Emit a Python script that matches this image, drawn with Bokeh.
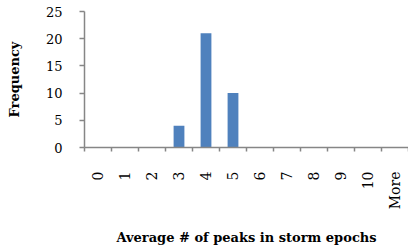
import math
from bokeh.plotting import figure
from bokeh.models import Range1d, FixedTicker, ColumnDataSource
from bokeh.embed import file_html
from bokeh.resources import INLINE

categories = ["0", "1", "2", "3", "4", "5", "6", "7", "8", "9", "10", "More"]
frequency = [0, 0, 0, 4, 21, 10, 0, 0, 0, 0, 0, 0]
y_ticks = [0, 5, 10, 15, 20, 25]

xpos = list(range(len(categories)))
src = ColumnDataSource(dict(x=xpos, top=frequency))

p = figure(width=408, height=250, output_backend="svg", toolbar_location=None,
           x_range=Range1d(-0.5, len(categories) - 0.5), y_range=Range1d(0, 25),
           min_border_left=84, min_border_right=0, min_border_top=11, min_border_bottom=103)

p.vbar(x="x", top="top", bottom=0, width=0.4, source=src,
       fill_color="#4F81BD", line_color=None)

p.outline_line_color = None
p.xgrid.visible = False
p.ygrid.visible = False
p.background_fill_color = "white"
p.border_fill_color = "white"

axis_color = "#868686"
font = "DejaVu Serif"

xa = p.xaxis[0]
xa.ticker = FixedTicker(ticks=xpos, minor_ticks=[i - 0.5 for i in range(len(categories) + 1)])
xa.major_label_overrides = {i: c for i, c in zip(xpos, categories)}
xa.major_label_orientation = math.pi / 2
xa.major_tick_line_color = None
xa.major_tick_out = 4
xa.major_tick_in = 0
xa.minor_tick_line_color = axis_color
xa.minor_tick_line_width = 1.5
xa.minor_tick_out = 4
xa.minor_tick_in = 0
xa.axis_line_color = axis_color
xa.axis_line_width = 1.5
xa.major_label_text_font = font
xa.major_label_text_font_size = "14px"
xa.major_label_text_color = "black"
xa.major_label_standoff = 20
xa.axis_label = "Average # of peaks in storm epochs"
xa.axis_label_text_font = font
xa.axis_label_text_font_style = "bold"
xa.axis_label_text_font_size = "13px"
xa.axis_label_text_color = "black"
xa.axis_label_standoff = 18

ya = p.yaxis[0]
ya.ticker = FixedTicker(ticks=y_ticks)
ya.major_tick_line_color = axis_color
ya.major_tick_line_width = 1.5
ya.major_tick_out = 5
ya.major_tick_in = 0
ya.minor_tick_line_color = None
ya.axis_line_color = axis_color
ya.axis_line_width = 1.5
ya.major_label_text_font = font
ya.major_label_text_font_size = "13px"
ya.major_label_text_color = "black"
ya.major_label_standoff = 17
ya.axis_label = "Frequency"
ya.axis_label_text_font = font
ya.axis_label_text_font_style = "bold"
ya.axis_label_text_font_size = "13px"
ya.axis_label_text_color = "black"
ya.axis_label_standoff = 21

open("out.html", "w").write(file_html(p, INLINE))
